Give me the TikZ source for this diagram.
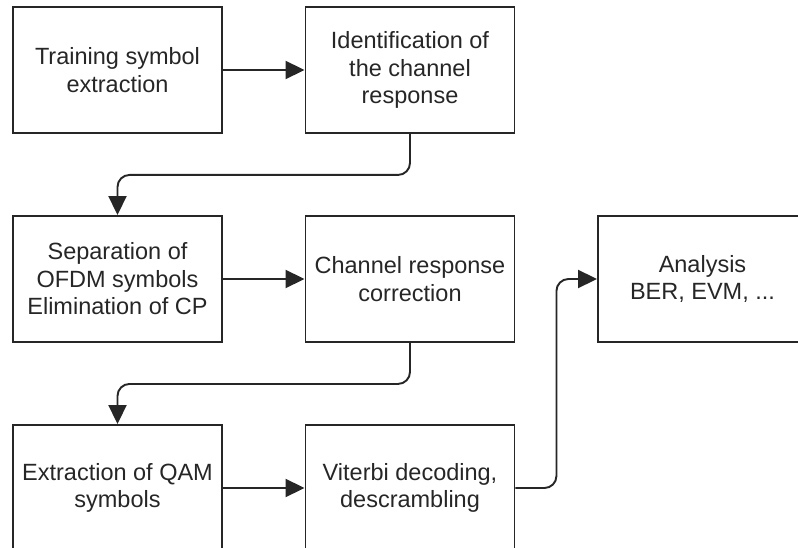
\documentclass[tikz,border=0pt]{standalone}
\usepackage{fontspec}
\setmainfont{Liberation Sans}
\usetikzlibrary{arrows.meta}
\definecolor{ink}{HTML}{262626}
\begin{document}
\begin{tikzpicture}[x=1pt, y=-1pt,
  block/.style={draw=ink, line width=1.9pt, minimum width=209pt, minimum height=126pt,
    align=center, text=ink, font=\fontsize{23.5}{27.5}\selectfont, inner sep=0pt},
  flow/.style={draw=ink, line width=1.9pt, -{Triangle[length=19pt, width=18pt]}}]
  \useasboundingbox (0,0) rectangle (798,548);
  % upper row
  \node[block] (train) at (117.5,70) {Training symbol\\extraction};
  \node[block] (ident) at (410,70) {Identification of\\the channel\\response};
  % middle row
  \node[block] (sep) at (117.5,279) {Separation of\\OFDM symbols\\Elimination of CP};
  \node[block] (corr) at (410,279) {Channel response\\correction};
  \node[block] (ana) at (702.5,279) {Analysis\\BER, EVM, ...};
  % lower row
  \node[block] (qam) at (117.5,488) {Extraction of QAM\\symbols};
  \node[block] (vit) at (410,488) {Viterbi decoding,\\descrambling};
  % arrows
  \draw[flow] (train) -- (ident);
  \draw[flow, rounded corners=12pt] (ident.south) -- ++(0,41) -| (sep.north);
  \draw[flow] (sep) -- (corr);
  \draw[flow, rounded corners=12pt] (corr.south) -- ++(0,41) -| (qam.north);
  \draw[flow] (qam) -- (vit);
  \draw[flow, rounded corners=12pt] (vit.east) -- ++(41,0) |- (ana.west);
\end{tikzpicture}
\end{document}
